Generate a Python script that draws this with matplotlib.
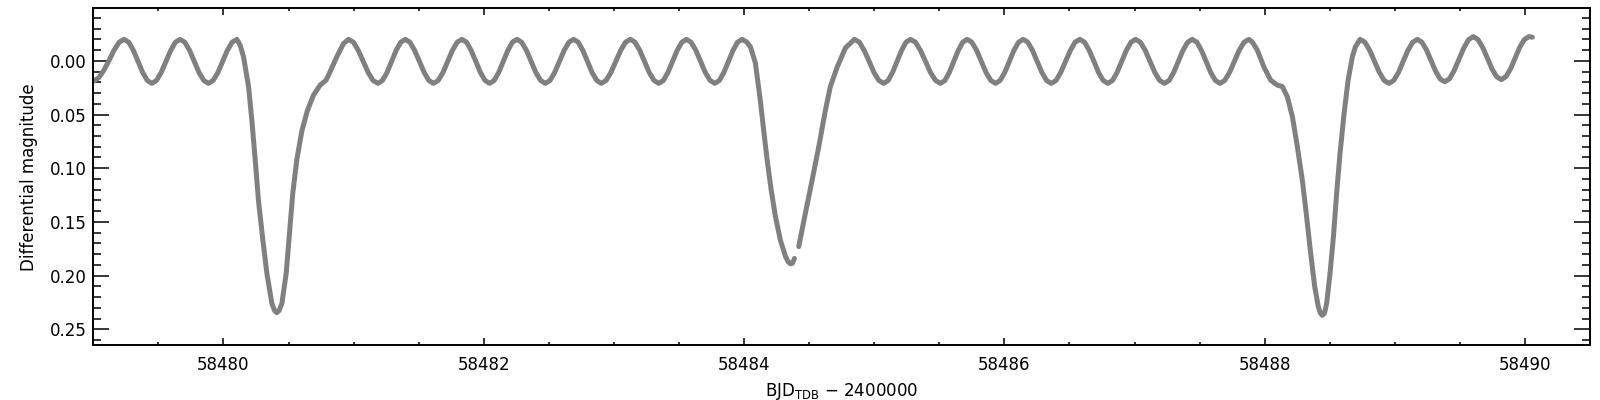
"""Light curve of an eclipsing binary with pulsations (IDL-like styling)."""

import matplotlib

matplotlib.use("Agg")
import matplotlib.pyplot as plt
import numpy as np
from matplotlib.ticker import FormatStrFormatter, MultipleLocator

# BJD_TDB - 2400000 and differential magnitude.
# The short gap near the bottom of the secondary eclipse is kept as a NaN.
bjd = [
    58479.000, 58479.040, 58479.080, 58479.120, 58479.160, 58479.200, 58479.237,
    58479.273, 58479.308, 58479.344, 58479.379, 58479.415, 58479.450,
    58479.486, 58479.522, 58479.559, 58479.595, 58479.631, 58479.667,
    58479.703, 58479.740, 58479.776, 58479.812, 58479.849, 58479.885,
    58479.921, 58479.958, 58479.994, 58480.030, 58480.067, 58480.103,
    # primary eclipse 1
    58480.128, 58480.154, 58480.193, 58480.218, 58480.244, 58480.269,
    58480.303, 58480.334, 58480.372, 58480.393, 58480.410, 58480.428,
    58480.449, 58480.482,
    58480.507, 58480.533, 58480.564, 58480.603, 58480.646, 58480.692,
    58480.743, 58480.789, 58480.820, 58480.872, 58480.922, 58480.961,
    58480.999, 58481.036, 58481.074, 58481.112, 58481.149, 58481.187,
    58481.222, 58481.257, 58481.292, 58481.327, 58481.362, 58481.397,
    58481.433, 58481.469, 58481.506, 58481.542, 58481.578, 58481.614,
    58481.650, 58481.687, 58481.723, 58481.759, 58481.796, 58481.832,
    58481.868, 58481.903, 58481.939, 58481.974, 58482.010, 58482.045,
    58482.080, 58482.115, 58482.150, 58482.185, 58482.220, 58482.255,
    58482.291, 58482.328, 58482.364, 58482.400, 58482.437, 58482.473,
    58482.509, 58482.545, 58482.582, 58482.618, 58482.654, 58482.690,
    58482.726, 58482.761, 58482.797, 58482.832, 58482.868, 58482.903,
    58482.940, 58482.977, 58483.015, 58483.052, 58483.089, 58483.126,
    58483.162, 58483.199, 58483.235, 58483.271, 58483.308, 58483.344,
    58483.380, 58483.415, 58483.451, 58483.486, 58483.522, 58483.557,
    58483.593, 58483.630, 58483.666, 58483.702, 58483.739, 58483.775,
    58483.810, 58483.845, 58483.880, 58483.915, 58483.950, 58483.985,
    # secondary eclipse
    58484.020, 58484.049, 58484.087, 58484.125, 58484.151, 58484.177,
    58484.208, 58484.241, 58484.279, 58484.318, 58484.338, 58484.356,
    58484.372, 58484.387,
    58484.400,
    58484.420, 58484.471, 58484.523, 58484.574, 58484.625, 58484.663,
    58484.715, 58484.779, 58484.848,
    58484.886, 58484.923, 58484.961, 58484.998, 58485.036, 58485.073,
    58485.107, 58485.141, 58485.176, 58485.210, 58485.244, 58485.278,
    58485.317, 58485.355, 58485.394, 58485.432, 58485.471, 58485.509,
    58485.543, 58485.577, 58485.612, 58485.646, 58485.680, 58485.714,
    58485.750, 58485.787, 58485.823, 58485.859, 58485.896, 58485.932,
    58485.967, 58486.003, 58486.038, 58486.073, 58486.109, 58486.144,
    58486.180, 58486.216, 58486.252, 58486.288, 58486.324, 58486.360,
    58486.397, 58486.433, 58486.470, 58486.507, 58486.543, 58486.580,
    58486.616, 58486.652, 58486.688, 58486.723, 58486.759, 58486.795,
    58486.831, 58486.866, 58486.902, 58486.937, 58486.973, 58487.008,
    58487.045, 58487.082, 58487.119, 58487.156, 58487.193, 58487.230,
    58487.266, 58487.301, 58487.337, 58487.372, 58487.408, 58487.443,
    58487.479, 58487.514, 58487.550, 58487.585, 58487.621, 58487.656,
    58487.693, 58487.730, 58487.767, 58487.804, 58487.841, 58487.878,
    # primary eclipse 2
    58487.905, 58487.943, 58487.995, 58488.046, 58488.097, 58488.136,
    58488.174, 58488.213, 58488.251, 58488.289, 58488.322, 58488.353,
    58488.384, 58488.412, 58488.428, 58488.443, 58488.459, 58488.476,
    58488.502, 58488.528,
    58488.553, 58488.579, 58488.610, 58488.641, 58488.674, 58488.697,
    58488.733,
    58488.770, 58488.807, 58488.844, 58488.881, 58488.918, 58488.955,
    58488.991, 58489.028, 58489.064, 58489.100, 58489.137, 58489.173,
    58489.208, 58489.243, 58489.278, 58489.313, 58489.348, 58489.383,
    58489.420, 58489.456, 58489.493, 58489.530, 58489.566, 58489.603,
    58489.639, 58489.675, 58489.711, 58489.746, 58489.782, 58489.818,
    58489.853, 58489.889, 58489.924, 58489.959, 58489.995, 58490.030,
    58490.057,
]

dmag = [
    0.0190, 0.0160, 0.0090, 0.0000, -0.0100, -0.0175, -0.0200,
    -0.0173, -0.0097, 0.0005, 0.0108, 0.0183, 0.0210,
    0.0183, 0.0108, 0.0005, -0.0097, -0.0173, -0.0200,
    -0.0173, -0.0097, 0.0005, 0.0108, 0.0183, 0.0210,
    0.0183, 0.0108, 0.0005, -0.0097, -0.0173, -0.0200,
    # primary eclipse 1
    -0.0146, -0.0040, 0.0240, 0.0550, 0.0920, 0.1300,
    0.1670, 0.1980, 0.2260, 0.2325, 0.2345, 0.2325,
    0.2260, 0.1980,
    0.1610, 0.1230, 0.0920, 0.0650, 0.0460, 0.0320,
    0.0226, 0.0180, 0.0100, -0.0040, -0.0160, -0.0200,
    -0.0173, -0.0097, 0.0005, 0.0108, 0.0183, 0.0210,
    0.0183, 0.0108, 0.0005, -0.0097, -0.0173, -0.0200,
    -0.0173, -0.0097, 0.0005, 0.0108, 0.0183, 0.0210,
    0.0183, 0.0108, 0.0005, -0.0097, -0.0173, -0.0200,
    -0.0173, -0.0097, 0.0005, 0.0108, 0.0183, 0.0210,
    0.0183, 0.0108, 0.0005, -0.0097, -0.0173, -0.0200,
    -0.0173, -0.0097, 0.0005, 0.0108, 0.0183, 0.0210,
    0.0183, 0.0108, 0.0005, -0.0097, -0.0173, -0.0200,
    -0.0173, -0.0097, 0.0005, 0.0108, 0.0183, 0.0210,
    0.0183, 0.0108, 0.0005, -0.0097, -0.0173, -0.0200,
    -0.0173, -0.0097, 0.0005, 0.0108, 0.0183, 0.0210,
    0.0183, 0.0108, 0.0005, -0.0097, -0.0173, -0.0200,
    -0.0173, -0.0097, 0.0005, 0.0108, 0.0183, 0.0210,
    0.0183, 0.0108, 0.0005, -0.0097, -0.0173, -0.0200,
    # secondary eclipse
    -0.0175, -0.0130, 0.0020, 0.0370, 0.0650, 0.0920,
    0.1200, 0.1450, 0.1670, 0.1820, 0.1870, 0.1890,
    0.1885, 0.1840,
    np.nan,
    0.1730, 0.1420, 0.1110, 0.0800, 0.0460, 0.0240,
    0.0060, -0.0120, -0.0200,
    -0.0173, -0.0097, 0.0005, 0.0108, 0.0183, 0.0210,
    0.0183, 0.0108, 0.0005, -0.0097, -0.0173, -0.0200,
    -0.0173, -0.0097, 0.0005, 0.0108, 0.0183, 0.0210,
    0.0183, 0.0108, 0.0005, -0.0097, -0.0173, -0.0200,
    -0.0173, -0.0097, 0.0005, 0.0108, 0.0183, 0.0210,
    0.0183, 0.0108, 0.0005, -0.0097, -0.0173, -0.0200,
    -0.0173, -0.0097, 0.0005, 0.0108, 0.0183, 0.0210,
    0.0183, 0.0108, 0.0005, -0.0097, -0.0173, -0.0200,
    -0.0173, -0.0097, 0.0005, 0.0108, 0.0183, 0.0210,
    0.0183, 0.0108, 0.0005, -0.0097, -0.0173, -0.0200,
    -0.0173, -0.0097, 0.0005, 0.0108, 0.0183, 0.0210,
    0.0183, 0.0108, 0.0005, -0.0097, -0.0173, -0.0200,
    -0.0173, -0.0097, 0.0005, 0.0108, 0.0183, 0.0210,
    0.0183, 0.0108, 0.0005, -0.0097, -0.0173, -0.0200,
    # primary eclipse 2
    -0.0175, -0.0100, 0.0060, 0.0180, 0.0226, 0.0240,
    0.0335, 0.0520, 0.0800, 0.1110, 0.1450, 0.1790,
    0.2100, 0.2290, 0.2350, 0.2370, 0.2350, 0.2260,
    0.1980, 0.1640,
    0.1230, 0.0860, 0.0490, 0.0180, -0.0040, -0.0130,
    -0.0200,
    -0.0173, -0.0097, 0.0005, 0.0108, 0.0183, 0.0210,
    0.0183, 0.0108, 0.0005, -0.0097, -0.0173, -0.0200,
    -0.0173, -0.0101, -0.0003, 0.0096, 0.0169, 0.0195,
    0.0167, 0.0090, -0.0015, -0.0120, -0.0197, -0.0225,
    -0.0198, -0.0125, -0.0025, 0.0075, 0.0148, 0.0175,
    0.0148, 0.0075, -0.0025, -0.0125, -0.0198, -0.0225,
    -0.0220,
]

x_range = (58479.0, 58490.5)
y_range = (0.2646, -0.0488)  # magnitudes: brighter up

fig = plt.figure(figsize=(16, 4), dpi=100)
ax = fig.add_axes([0.0583, 0.1375, 0.9355, 0.8415])

ax.plot(bjd, dmag, color="#808080", linewidth=3.6,
        solid_capstyle="round", solid_joinstyle="round")

ax.set_xlim(*x_range)
ax.set_ylim(*y_range)

ax.xaxis.set_major_locator(MultipleLocator(2))
ax.xaxis.set_minor_locator(MultipleLocator(0.5))
ax.yaxis.set_major_locator(MultipleLocator(0.05))
ax.yaxis.set_minor_locator(MultipleLocator(0.01))
ax.yaxis.set_major_formatter(FormatStrFormatter("%.2f"))
ax.xaxis.set_major_formatter(FormatStrFormatter("%d"))

for side in ax.spines.values():
    side.set_linewidth(1.4)
    side.set_color("black")

ax.tick_params(axis="both", which="both", direction="in",
               top=True, right=True, width=1.1, colors="black",
               labelsize=12)
ax.tick_params(axis="x", which="major", length=5, pad=8)
ax.tick_params(axis="x", which="minor", length=2.5)
ax.tick_params(axis="y", which="major", length=11.5, pad=4.5)
ax.tick_params(axis="y", which="minor", length=5.8)

ax.set_xlabel(r"BJD$_{\rm TDB}$ $-$ 2400000", fontsize=12)
ax.set_ylabel("Differential magnitude", fontsize=12)
ax.xaxis.set_label_coords(0.5, -0.106)
ax.yaxis.set_label_coords(-0.037, 0.5)

fig.savefig("out.png", dpi=100)
plt.close(fig)
